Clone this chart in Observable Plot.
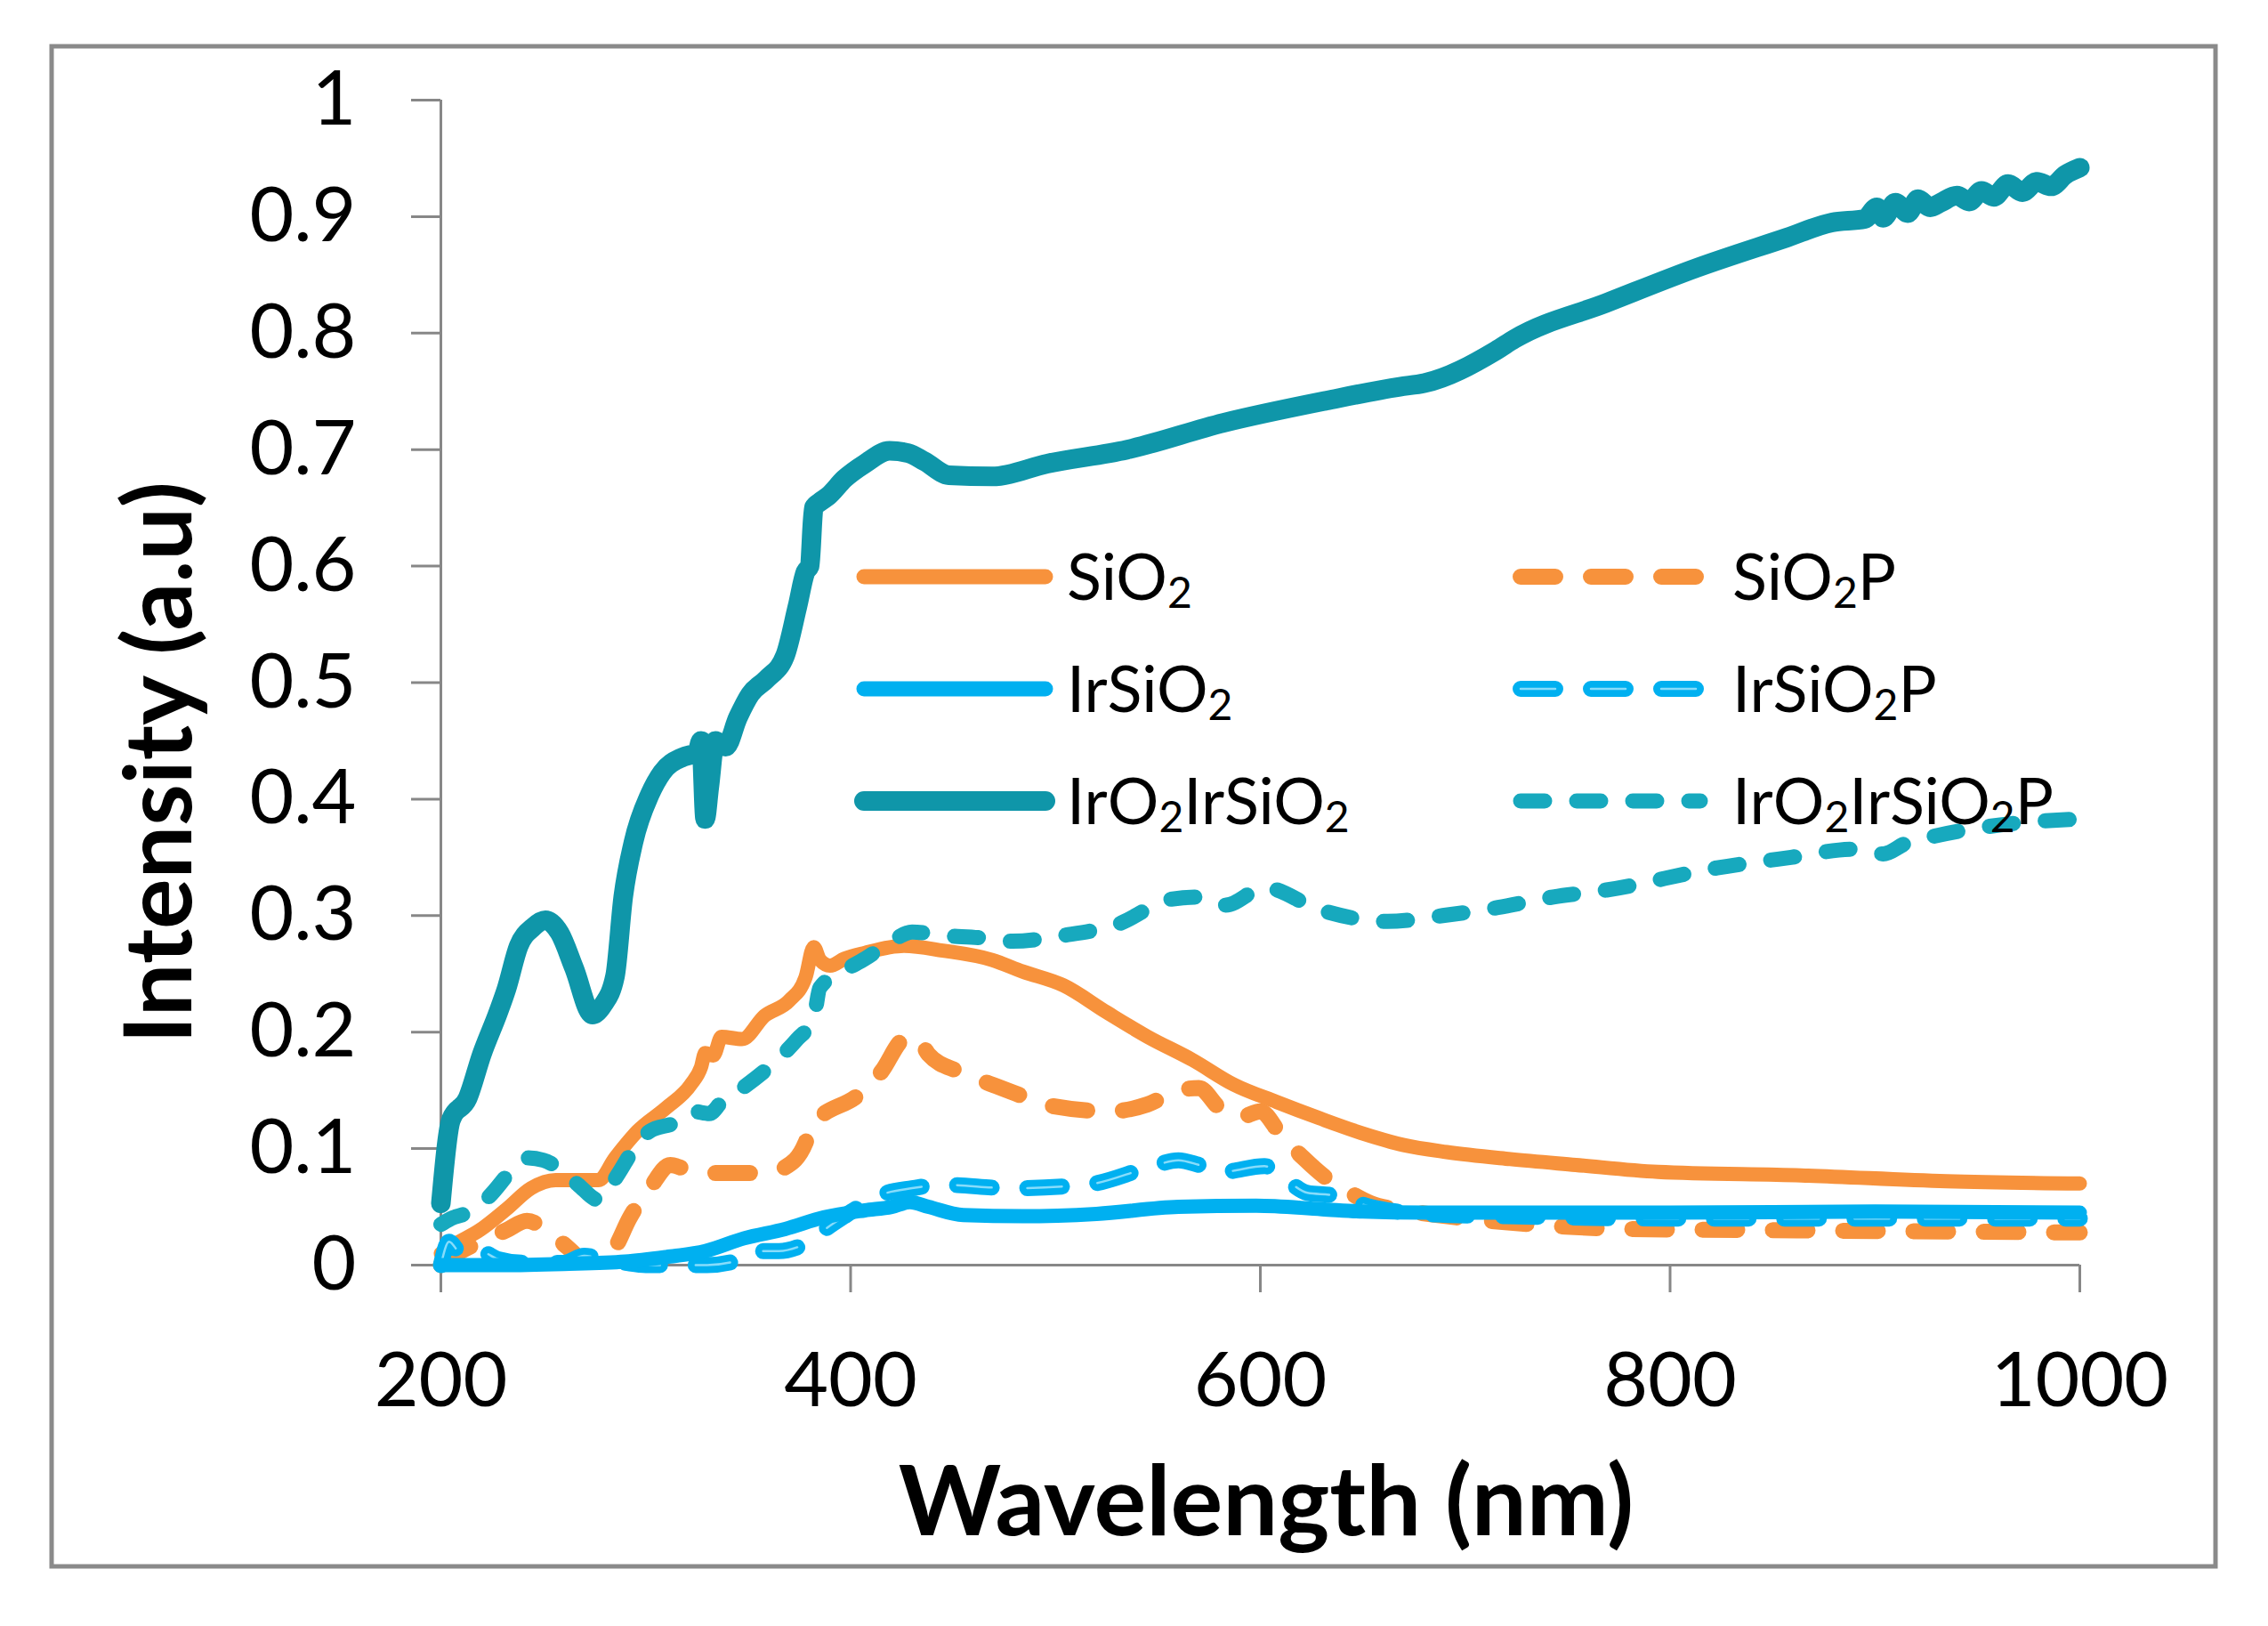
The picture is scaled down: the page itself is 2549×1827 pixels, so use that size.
<!DOCTYPE html>
<html>
<head>
<meta charset="utf-8">
<script src="https://cdn.jsdelivr.net/npm/d3@7"></script>
<script src="https://cdn.jsdelivr.net/npm/@observablehq/plot@0.6"></script>
<style>
  html, body { margin: 0; padding: 0; background: #ffffff; }
  #chart { position: relative; width: 2549px; height: 1827px; background: #ffffff; }
  #chart svg { display: block; overflow: visible; }
</style>
</head>
<body>
<div id="chart"></div>
<script>
// ---------------- data ----------------
const seriesNames = ["SiO₂", "SiO₂P", "IrSiO₂", "IrSiO₂P", "IrO₂IrSiO₂", "IrO₂IrSiO₂P"];

const wlSiO2 = [200,207,219,232,244,256,267,277,285,296,310,322,327,329,333,337,347,358,370,378,382,385,390,397,407,426,445,469,484,504,525,545,567,587,608,629,650,670,691,722,754,794,864,935,1000];
const valSiO2 = [0.01,0.018,0.03,0.048,0.066,0.073,0.073,0.073,0.092,0.115,0.135,0.155,0.17,0.182,0.18,0.196,0.194,0.214,0.227,0.247,0.273,0.262,0.257,0.263,0.268,0.274,0.27,0.262,0.252,0.24,0.217,0.196,0.176,0.155,0.14,0.126,0.113,0.103,0.097,0.091,0.086,0.080,0.077,0.072,0.070];

const wlSiO2P = [200,210,222,232,242,253,262,269,278,285,292,302,312,320,329,341,358,368,378,381,387,403,415,426,432,438,453,469,484,497,527,545,560,570,580,590,600,610,621,632,643,654,665,677,712,749,778,850,920,1000];
const valSiO2P = [0.0,0.012,0.022,0.03,0.038,0.028,0.015,0.005,0.003,0.015,0.04,0.066,0.086,0.082,0.079,0.079,0.079,0.084,0.105,0.122,0.13,0.145,0.166,0.194,0.196,0.181,0.166,0.155,0.145,0.137,0.132,0.138,0.15,0.152,0.135,0.127,0.132,0.112,0.092,0.075,0.063,0.053,0.048,0.045,0.038,0.033,0.031,0.03,0.029,0.028];

const wlIrSiO2 = [200,230,260,290,310,329,348,368,387,407,420,429,438,455,484,520,560,598,630,650,680,720,800,900,1000];
const valIrSiO2 = [0.0,0.0,0.001,0.003,0.007,0.012,0.023,0.031,0.041,0.047,0.05,0.054,0.05,0.043,0.042,0.044,0.05,0.051,0.048,0.046,0.045,0.045,0.045,0.046,0.045];

const wlIrSiO2P = [200,204,210,219,228,240,260,270,280,290,300,315,330,345,354,365,375,380,387,397,407,416,430,445,478,515,546,560,570,581,602,612,623,635,656,680,720,800,900,1000];
const valIrSiO2P = [0.0,0.02,0.01,0.012,0.005,0.002,0.002,0.008,0.005,0.002,0.0,0.0,0.0,0.004,0.012,0.012,0.016,0.02,0.03,0.042,0.053,0.061,0.066,0.069,0.066,0.069,0.084,0.09,0.086,0.08,0.085,0.074,0.062,0.06,0.049,0.044,0.042,0.04,0.04,0.04];

const wlIrO2IrSiO2 = [200,205,213,220,228,232,238,245,251,258,265,274,279,285,289,294,302,308,318,325,327,329,331,334,339,345,351,359,368,374,378,380,382,385,389,397,407,419,428,436,448,469,496,535,582,632,668,680,715,724,769,813,857,879,895,901,904,910,916,921,927,932,940,946,952,958,965,972,979,986,993,1000];
const valIrO2IrSiO2 = [0.053,0.125,0.143,0.181,0.217,0.237,0.274,0.29,0.296,0.285,0.255,0.215,0.223,0.248,0.316,0.363,0.404,0.423,0.436,0.44,0.45,0.383,0.41,0.45,0.445,0.47,0.49,0.503,0.523,0.565,0.595,0.60,0.65,0.655,0.66,0.675,0.688,0.699,0.697,0.69,0.678,0.677,0.688,0.70,0.723,0.742,0.754,0.757,0.785,0.795,0.826,0.856,0.882,0.895,0.898,0.908,0.899,0.912,0.903,0.915,0.908,0.912,0.918,0.913,0.922,0.917,0.928,0.921,0.930,0.926,0.936,0.942];

const wlIrO2IrSiO2P = [200,205,213,223,236,242,250,256,267,277,285,294,302,314,323,331,337,348,364,374,382,385,397,407,420,430,445,463,479,504,531,556,570,583,602,629,662,689,716,743,769,823,859,890,904,915,931,967,1000];
const valIrO2IrSiO2P = [0.035,0.04,0.045,0.058,0.084,0.092,0.09,0.085,0.069,0.056,0.074,0.099,0.115,0.122,0.132,0.13,0.14,0.153,0.176,0.194,0.212,0.238,0.253,0.263,0.278,0.286,0.283,0.281,0.278,0.283,0.293,0.314,0.316,0.309,0.324,0.305,0.295,0.30,0.307,0.316,0.322,0.341,0.350,0.357,0.353,0.362,0.369,0.379,0.383];

const xTicks = [200, 400, 600, 800, 1000];
const yTicks = [0, 0.1, 0.2, 0.3, 0.4, 0.5, 0.6, 0.7, 0.8, 0.9, 1];

// build table
function rows(name, xs, ys) { return xs.map((x, i) => ({series: name, wl: x, v: ys[i]})); }
const dSiO2 = rows(seriesNames[0], wlSiO2, valSiO2);
const dSiO2P = rows(seriesNames[1], wlSiO2P, valSiO2P);
const dIrSiO2 = rows(seriesNames[2], wlIrSiO2, valIrSiO2);
const dIrSiO2P = rows(seriesNames[3], wlIrSiO2P, valIrSiO2P);
const dIrO2 = rows(seriesNames[4], wlIrO2IrSiO2, valIrO2IrSiO2);
const dIrO2P = rows(seriesNames[5], wlIrO2IrSiO2P, valIrO2IrSiO2P);

// ---------------- styles ----------------
const ORANGE = "#F7923C";
const BLUE = "#00B0F0";
const BLUE_STRIPE = "#86DCFB";
const TEAL = "#0F96A9";
const TEAL2 = "#17A9BE";
const AXIS = "#878787";
const longDash = "39,40";
const shortDash = "27,36";
const FONT = "Lato, 'Open Sans', sans-serif";

const lineOpts = {x: "wl", y: "v", curve: "monotone-x", strokeLinecap: "round", strokeLinejoin: "round"};

const chart = Plot.plot({
  width: 2549,
  height: 1827,
  marginLeft: 495,
  marginRight: 212,
  marginTop: 112,
  marginBottom: 406,
  x: {domain: [200, 1000]},
  y: {domain: [0, 1]},
  style: {fontFamily: FONT, background: "transparent", color: "#000", overflow: "visible"},
  marks: [
    Plot.ruleX([200], {stroke: AXIS, strokeWidth: 3}),
    Plot.ruleY([0], {stroke: AXIS, strokeWidth: 3}),
    Plot.axisY({ticks: yTicks, tickSize: 33, tickPadding: 62, fontSize: 86, stroke: AXIS, strokeWidth: 3, fill: "#000",
      tickFormat: d => String(Math.round(d * 10) / 10), label: null}),
    Plot.axisX({ticks: xTicks, tickSize: 31, tickPadding: 66, fontSize: 86, stroke: AXIS, strokeWidth: 3, fill: "#000",
      tickFormat: d => String(d), label: null}),
    Plot.line(dSiO2P, {...lineOpts, stroke: ORANGE, strokeWidth: 18, strokeDasharray: longDash}),
    Plot.line(dSiO2, {...lineOpts, stroke: ORANGE, strokeWidth: 16}),
    Plot.line(dIrSiO2P, {...lineOpts, stroke: BLUE, strokeWidth: 18, strokeDasharray: longDash}),
    Plot.line(dIrSiO2P, {...lineOpts, stroke: BLUE_STRIPE, strokeWidth: 2.5, strokeDasharray: longDash}),
    Plot.line(dIrSiO2, {...lineOpts, stroke: BLUE, strokeWidth: 16}),
    Plot.line(dIrO2, {...lineOpts, stroke: TEAL, strokeWidth: 22}),
    Plot.line(dIrO2P, {...lineOpts, stroke: TEAL2, strokeWidth: 17, strokeDasharray: shortDash})
  ]
});

document.getElementById("chart").appendChild(chart);

// ---------------- decorations: frame, titles, legend ----------------
const svg = d3.select(chart);

svg.insert("rect", ":first-child")
  .attr("x", 58).attr("y", 52).attr("width", 2432).attr("height", 1708)
  .attr("fill", "none").attr("stroke", "#8a8a8a").attr("stroke-width", 5);

svg.append("text")
  .attr("transform", "translate(177,857) rotate(-90)")
  .attr("text-anchor", "middle").attr("dy", "0.36em")
  .attr("font-family", FONT).attr("font-weight", 700).attr("font-size", 106)
  .attr("fill", "#000").text("Intensity (a.u)");

svg.append("text")
  .attr("x", 1423).attr("y", 1725)
  .attr("text-anchor", "middle")
  .attr("font-family", FONT).attr("font-weight", 700).attr("font-size", 110)
  .attr("fill", "#000").text("Wavelength (nm)");

// legend entries
const legendItems = [
  {parts: [["SiO", false], ["2", true]], col: 0, row: 0, stroke: ORANGE, width: 17, dash: null},
  {parts: [["SiO", false], ["2", true], ["P", false]], col: 1, row: 0, stroke: ORANGE, width: 18, dash: longDash},
  {parts: [["IrSiO", false], ["2", true]], col: 0, row: 1, stroke: BLUE, width: 17, dash: null},
  {parts: [["IrSiO", false], ["2", true], ["P", false]], col: 1, row: 1, stroke: BLUE, width: 18, dash: longDash, inner: true},
  {parts: [["IrO", false], ["2", true], ["IrSiO", false], ["2", true]], col: 0, row: 2, stroke: TEAL, width: 22, dash: null},
  {parts: [["IrO", false], ["2", true], ["IrSiO", false], ["2", true], ["P", false]], col: 1, row: 2, stroke: TEAL2, width: 17, dash: shortDash}
];
const rowY = [648, 774, 900];
const colLine = [[971, 1175], [1709, 1911]];
const colText = [1199, 1947];
const lg = svg.append("g").attr("text-anchor", "start");
for (const it of legendItems) {
  const y = rowY[it.row];
  const [x1, x2] = colLine[it.col];
  const ln = lg.append("line").attr("x1", x1).attr("x2", x2).attr("y1", y).attr("y2", y)
    .attr("stroke", it.stroke).attr("stroke-width", it.width).attr("stroke-linecap", "round");
  if (it.dash) ln.attr("stroke-dasharray", it.dash);
  if (it.inner) {
    lg.append("line").attr("x1", x1).attr("x2", x2).attr("y1", y).attr("y2", y)
      .attr("stroke", BLUE_STRIPE).attr("stroke-width", 2.5).attr("stroke-linecap", "round")
      .attr("stroke-dasharray", it.dash);
  }
  const t = lg.append("text").attr("x", colText[it.col]).attr("y", y + 26)
    .attr("text-anchor", "start")
    .attr("font-family", FONT).attr("font-size", 72).attr("fill", "#000");
  let shifted = false;
  for (const [s, sub] of it.parts) {
    const sp = t.append("tspan").text(s);
    if (sub && !shifted) { sp.attr("font-size", 48).attr("dy", 9); shifted = true; }
    else if (!sub && shifted) { sp.attr("dy", -9); shifted = false; }
    else if (sub) { sp.attr("font-size", 48); }
  }
}
</script>
</body>
</html>
